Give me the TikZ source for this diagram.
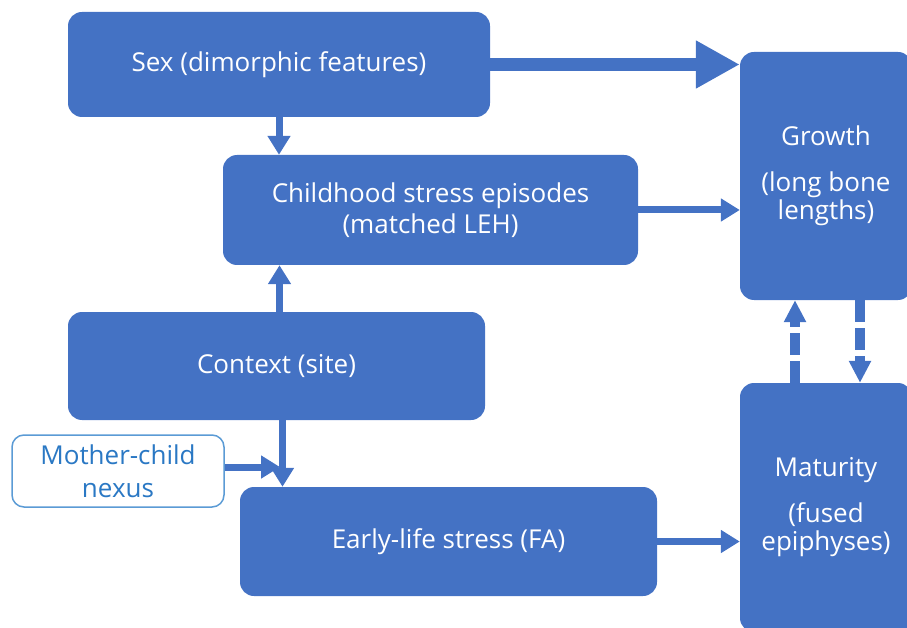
\documentclass[tikz,border=0pt]{standalone}
\usepackage{fontspec}
\setmainfont{Open Sans}
\usepackage{xcolor}
\usetikzlibrary{
	arrows.meta,
	calc,
	positioning
}
\definecolor{boxblue}{HTML}{4472C4}
\definecolor{lineblue}{HTML}{5B9BD5}
\definecolor{textblue}{HTML}{2A78C4}

\begin{document}
\begin{tikzpicture}[x=1pt, y=-1pt,
		font=\fontsize{26}{31}\selectfont,
		block/.style={fill=boxblue, text=white, rounded corners=14pt, align=center, inner sep=0pt},
		tall/.style={block, minimum width=172pt, font={\fontsize{26}{28}\selectfont\lineskiplimit=-20pt\relax}},
		note/.style={draw=lineblue, line width=1.5pt, fill=white, text=textblue, rounded corners=12pt, align=center, inner sep=0pt},
		link/.style={draw=boxblue, line width=7pt, -{Triangle[width=22pt, length=19pt]}},
		biglink/.style={draw=boxblue, line width=13pt, -{Triangle[width=45pt, length=44pt]}},
		dashlink/.style={draw=boxblue, line width=10pt, dash pattern=on 22pt off 6pt, -{Triangle[width=21pt, length=22pt]}}]
		\useasboundingbox (0,0) rectangle (907,628);
		\node[block, minimum width=422pt, minimum height=105pt] (sex) at (279,64.5) {Sex (dimorphic features)};
		\node[block, minimum width=415pt, minimum height=110pt] (child) at (430.5,210) {Childhood stress episodes\\(matched LEH)};
		\node[block, minimum width=417pt, minimum height=108pt] (context) at (276.5,366) {Context (site)};
		\node[note, minimum width=212pt, minimum height=72pt, font=\fontsize{26}{33}\selectfont] (mother) at (118,471) {Mother-child\\nexus};
		\node[block, minimum width=417pt, minimum height=109pt] (early) at (448.5,541.5) {Early-life stress (FA)};
		\node[tall, minimum height=248pt] (growth) at (826,176) {Growth\\[18pt](long bone\\lengths)};
		\node[tall, minimum height=249pt] (maturity) at (826,507.5) {Maturity\\[18pt](fused\\epiphyses)};
		\coordinate (nexus) at (280,467);
		\draw[biglink] (sex.east) -- (sex.east -| growth.west);
		\draw[link] (sex.south) -- (sex.south |- child.north);
		\draw[link] (child.east) -- (child.east -| growth.west);
		\draw[link] ([xshift=3pt]context.north) -- ([xshift=3pt]context.north |- child.south);
		\draw[link] ([xshift=6pt]context.south) -- ([xshift=6pt]context.south |- early.north);
		\draw[link] (mother.east |- nexus) -- (nexus);
		\draw[link] (early.east) -- (early.east -| maturity.west);
		\draw[dashlink] ([xshift=-31pt]maturity.north) -- ([xshift=-31pt]growth.south);
		\draw[dashlink] ([xshift=34pt]growth.south) -- ([xshift=34pt]maturity.north);
	\end{tikzpicture}
\end{document}
